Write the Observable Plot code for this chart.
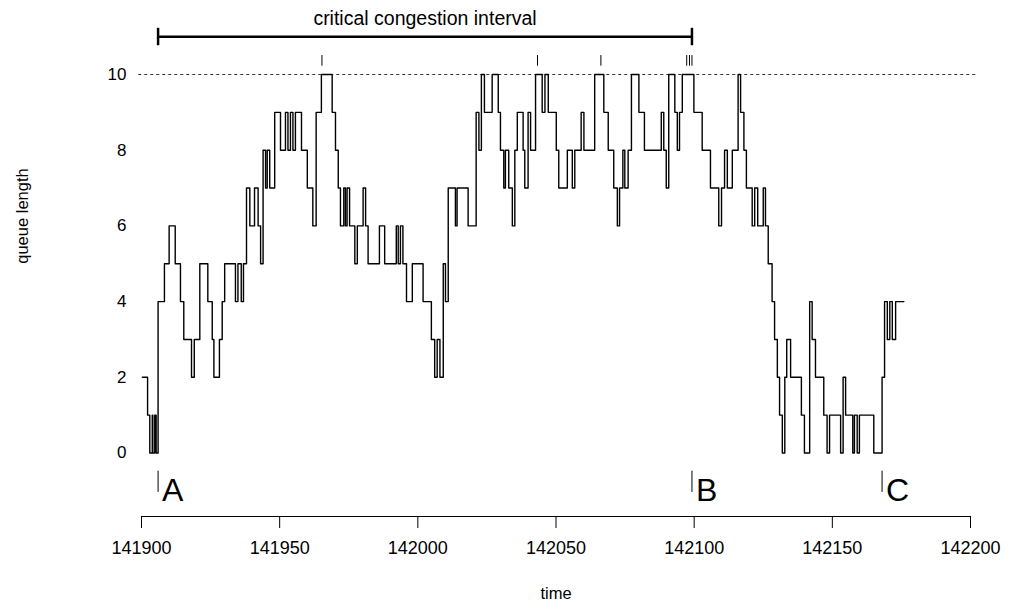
<!DOCTYPE html>
<html><head><meta charset="utf-8">
<script src="https://cdn.jsdelivr.net/npm/d3@7"></script>
<script src="https://cdn.jsdelivr.net/npm/@observablehq/plot@0.6"></script>
<style>
html,body{margin:0;padding:0;background:#fff;}
#chart svg{display:block;}
</style>
</head><body><div id="chart"></div>
<script>
// event times (step changes) and queue length after each event
const times = [141900.3, 141902.2, 141903.0, 141903.9, 141904.1, 141904.8, 141905.3, 141906.0, 141908.3, 141910.0,
  141912.2, 141914.1, 141915.3, 141918.1, 141919.1, 141921.1, 141924.0, 141925.6, 141926.2, 141928.2,
  141929.2, 141930.1, 141934.0, 141934.9, 141936.1, 141936.9, 141938.0, 141939.2, 141940.9, 141942.2,
  141943.1, 141944.0, 141944.9, 141945.5, 141946.4, 141948.2, 141950.3, 141952.1, 141953.0, 141953.9,
  141954.8, 141955.7, 141957.9, 141960.0, 141962.0, 141963.2, 141965.1, 141969.0, 141970.2, 141971.2,
  141972.0, 141973.2, 141973.8, 141974.4, 141975.3, 141977.2, 141978.1, 141980.2, 141981.1, 141982.0,
  141986.1, 141988.0, 141992.2, 141992.9, 141993.7, 141994.6, 141995.9, 141998.0, 142001.9, 142004.9,
  142006.1, 142007.0, 142008.0, 142009.2, 142010.0, 142011.0, 142013.6, 142014.2, 142018.2, 142021.1,
  142022.1, 142023.0, 142024.1, 142026.9, 142029.1, 142029.9, 142031.1, 142031.7, 142032.9, 142034.2,
  142035.1, 142036.0, 142038.1, 142038.7, 142039.9, 142040.8, 142042.6, 142045.0, 142046.0, 142047.2,
  142050.1, 142051.0, 142054.1, 142055.9, 142056.8, 142059.1, 142060.1, 142064.0, 142067.3, 142068.9,
  142070.9, 142072.2, 142073.0, 142074.2, 142074.9, 142076.1, 142077.3, 142080.0, 142082.0, 142088.1,
  142089.0, 142089.9, 142090.8, 142093.0, 142093.9, 142094.7, 142095.7, 142099.9, 142102.9, 142105.9,
  142108.9, 142109.9, 142111.0, 142112.0, 142113.8, 142115.9, 142116.8, 142118.0, 142118.9, 142121.0,
  142121.9, 142123.0, 142125.0, 142125.8, 142126.8, 142128.2, 142129.1, 142130.1, 142130.9, 142131.9,
  142132.8, 142133.5, 142134.9, 142138.8, 142139.9, 142141.8, 142142.7, 142143.9, 142146.9, 142148.1,
  142149.0, 142153.0, 142153.9, 142154.8, 142157.4, 142158.0, 142159.0, 142159.8, 142165.0, 142168.0,
  142168.9, 142169.9, 142170.8, 142171.7, 142172.9];
const queue = [2,1,0,1,0,1,0,4,5,6,
  5,4,3,2,3,5,4,3,2,3,
  4,5,4,5,4,5,7,6,7,6,
  5,8,7,8,7,9,8,9,8,9,
  8,9,8,7,6,9,10,9,8,7,
  6,7,6,7,6,5,6,7,6,5,
  6,5,6,5,6,5,4,5,4,3,
  2,3,2,5,4,7,6,7,6,9,
  8,10,9,10,9,8,7,8,7,6,
  8,9,8,7,9,8,10,9,10,9,
  8,7,8,7,8,9,8,10,9,8,
  7,6,7,8,7,8,10,9,8,9,
  8,7,10,9,8,9,10,9,8,7,
  6,7,8,7,8,10,9,8,7,6,
  7,6,7,6,5,4,3,2,1,0,
  2,3,2,1,0,4,3,2,1,0,
  1,0,2,1,0,1,0,1,0,2,
  4,3,4,3,4];
const endTime = 142175.9;
const capacity = 10;
const xTicks = [141900, 141950, 142000, 142050, 142100, 142150, 142200];
const yTicks = [0, 2, 4, 6, 8, 10];
const dropTimes = [141965.3, 142043.3, 142066.25, 142097.3, 142098.3, 142099.2];
const markerLabels = ["A", "B", "C"];
const markerTimes = [141906.0, 142099.2, 142168.0];
const intervalStart = 141906.0;
const intervalEnd = 142099.2;
const intervalLabel = "critical congestion interval";

const series = times.map((t, i) => ({t, q: queue[i]}));
series.push({t: endTime, q: queue[queue.length - 1]});
const markers = markerTimes.map((t, i) => ({t, label: markerLabels[i]}));

const font = "'Liberation Sans', Arial, Helvetica, sans-serif";

const chart = Plot.plot({
  width: 1010,
  height: 612,
  marginLeft: 141,
  marginRight: 40,
  marginTop: 74,
  marginBottom: 96,
  x: {domain: [141900, 142200], range: [141, 970]},
  y: {domain: [0, 10], range: [452.5, 74]},
  style: {fontFamily: font, fontSize: "16px", color: "black", background: "white", overflow: "visible"},
  marks: [
    // capacity line
    Plot.ruleY([capacity], {x1: 141899, x2: 142202, stroke: "#333", strokeWidth: 1, strokeDasharray: "3,3"}),
    // queue length step line
    Plot.line(series, {x: "t", y: "q", curve: "step-after", stroke: "black", strokeWidth: 1.4}),
    // drop ticks above capacity line
    Plot.ruleX(dropTimes, {y1: 10.22, y2: 10.5, stroke: "black", strokeWidth: 1}),
    // critical congestion interval bar
    Plot.ruleY([11.0], {x1: intervalStart, x2: intervalEnd, stroke: "black", strokeWidth: 2.5}),
    Plot.ruleX([intervalStart, intervalEnd], {y1: 10.76, y2: 11.22, stroke: "black", strokeWidth: 2.5}),
    Plot.text([intervalLabel], {x: (intervalStart + intervalEnd) / 2, y: 11.32, lineAnchor: "bottom", fontSize: 19.5, fill: "black"}),
    // A, B, C markers
    Plot.ruleX(markers, {x: "t", y1: -0.48, y2: -1.04, stroke: "black", strokeWidth: 1}),
    Plot.text(markers, {x: "t", y: -1.28, text: "label", textAnchor: "start", lineAnchor: "bottom", dx: 4, fontSize: 32, fill: "black"}),
    // x axis
    Plot.ruleY([0], {x1: 141900, x2: 142200, dy: 63.5, stroke: "black", strokeWidth: 1}),
    Plot.axisX({ticks: xTicks, tickFormat: "d", tickSize: 12, tickPadding: 13, label: null, fontSize: 18, stroke: "black"}),
    Plot.text(["time"], {x: 142050, frameAnchor: "bottom", dy: 82, fontSize: 16.5, fill: "black"}),
    // y axis (labels only)
    Plot.axisY({ticks: yTicks, tickSize: 0, tickPadding: 15, label: null, fontSize: 17}),
    Plot.text(["queue length"], {y: 5, frameAnchor: "left", dx: -119, rotate: -90, fontSize: 16.5, fill: "black"})
  ]
});
document.getElementById("chart").appendChild(chart);
</script>
</body></html>
